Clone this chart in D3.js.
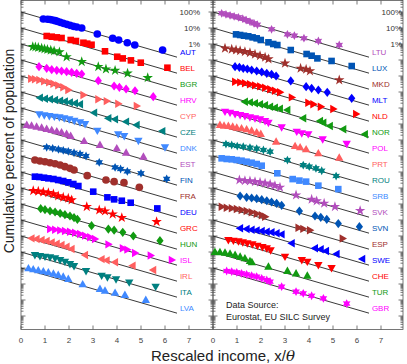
<!DOCTYPE html>
<html>
<head>
<meta charset="utf-8">
<script src="https://cdn.jsdelivr.net/npm/d3@7"></script>
<style>
  body { margin: 0; background: #fff; }
  svg { display: block; font-family: "Liberation Sans", Arial, sans-serif; }
</style>
</head>
<body>
<div id="chart"></div>
<script>
// countries top to bottom in each panel
var leftCountries = ["AUT", "BEL", "BGR", "HRV", "CYP", "CZE", "DNK", "EST", "FIN",
  "FRA", "DEU", "GRC", "HUN", "ISL", "IRL", "ITA", "LVA"];
var rightCountries = ["LTU", "LUX", "MKD", "MLT", "NLD", "NOR", "POL", "PRT", "ROU",
  "SRB", "SVK", "SVN", "ESP", "SWE", "CHE", "TUR", "GBR"];

// each point: [rescaled income x/theta, cumulative percent of population]
var AUT = [[0.93,36.5],[1.11,35],[1.21,34],[1.31,31.6],[1.42,28.6],[1.51,26],[1.63,22.6],[1.76,19.6],[1.9,17],[2.04,14.7],[2.18,12.7],[2.32,11.5],[2.53,10],[3.18,4.2],[3.82,2.3],[4.07,1.78],[4.43,1.2],[4.74,0.87],[5.9,0.42]];
var BEL = [[1.07,31.6],[1.28,28.7],[1.49,26],[1.69,23.7],[2.07,17.8],[2.29,15.4],[2.6,12],[2.76,10.5],[2.94,9],[3.5,3.5],[4.01,1.6],[4.24,1.26],[4.58,0.95],[4.99,0.68],[6.1,0.33]];
var BGR = [[0.49,68],[0.6,65],[0.72,60],[0.86,54],[0.98,49],[1.1,45],[1.24,41],[1.38,36.5],[1.6,31.6],[1.9,15.5],[2.53,7.8],[3.22,3.8],[3.54,2.7],[3.92,2.2],[4.44,1.47],[5.28,0.78]];
var HRV = [[0.75,38],[1.07,30.3],[1.28,24.8],[1.49,22.6],[1.69,20.5],[1.9,18.6],[2.11,17],[2.32,14.7],[2.53,13.3],[3.22,5.1],[3.88,2.37],[4.1,1.95],[4.38,1.54],[4.75,1.2],[5.51,0.51]];
var CYP = [[0.42,68],[0.58,62],[0.76,56],[0.96,46.6],[1.17,40],[1.35,33],[1.55,26],[1.76,19.6],[1.97,13.3],[2.6,6.5],[3.22,3.5],[3.57,2.7],[4.05,1.85],[4.82,1.33]];
var CZE = [[0.79,44],[1.0,38],[1.21,35],[1.42,31.6],[1.63,28.7],[1.83,26],[2.04,22.6],[2.25,19.6],[2.46,17],[3.05,5.1],[3.64,2.3],[3.92,1.95],[4.38,1.4],[4.82,0.87],[5.89,0.36]];
var DNK = [[0.76,40],[0.97,35],[1.18,31.6],[1.39,28.6],[1.6,26],[1.8,22.6],[2.01,19.6],[2.22,16],[2.46,12.7],[2.67,10],[3.18,3.8],[4.05,2.3],[4.3,1.78],[4.89,0.9],[6.0,0.35]];
var EST = [[0.24,86.6],[0.44,78.5],[0.65,68],[0.86,58.8],[1.07,48.7],[1.28,42],[1.49,35],[1.69,30.3],[1.9,23.7],[2.07,17.8],[2.63,8.6],[3.29,4.9],[3.99,3.0],[4.38,1.6],[5.1,0.9]];
var FIN = [[1.07,35],[1.32,30.3],[1.56,26],[1.76,22.6],[1.97,19.6],[2.21,16],[2.46,13.3],[2.71,10],[3.26,4],[3.92,1.95],[4.15,1.54],[4.43,1.1],[5.0,0.83],[6.07,0.37]];
var FRA = [[0.58,56],[0.79,48.7],[1.0,44],[1.21,38],[1.42,33],[1.63,27.4],[1.83,21.5],[2.04,17],[2.21,13.3],[2.76,5.9],[3.54,3.16],[3.88,2.5],[4.29,2.15],[4.93,1.1]];
var DEU = [[0.58,51],[0.76,48.7],[0.96,44],[1.14,40],[1.35,36.5],[1.55,31.6],[1.76,27.4],[1.97,22.6],[2.18,17.8],[2.39,13.3],[3.01,5.9],[3.6,2.6],[3.88,1.95],[4.2,1.6],[4.57,1.2],[5.68,0.53]];
var GRC = [[0.51,68],[0.72,62],[0.93,56],[1.14,51],[1.35,42],[1.55,31.6],[1.76,26],[1.97,22.6],[2.11,17.8],[2.74,6.8],[3.26,4.2],[3.5,3.6],[3.82,2.3],[4.2,1.4],[5.65,0.78]];
var HUN = [[0.82,51],[1.0,44],[1.21,36.5],[1.42,31.6],[1.63,26],[1.83,21.5],[2.04,17.8],[2.21,14],[2.35,11],[2.94,4.4],[3.64,2.7],[3.88,2.3],[4.24,1.7],[4.68,1.0],[5.79,0.51]];
var ISL = [[1.21,27.4],[1.42,24.8],[1.63,22.6],[1.83,20.5],[2.04,18.6],[2.25,16],[2.46,13.3],[2.67,10.5],[2.88,8.3],[3.08,6.5],[3.64,3.0],[4.24,1.7],[4.43,1.4],[4.75,0.87],[5.4,0.6],[6.28,0.32]];
var IRL = [[0.44,71.5],[0.65,65],[0.86,56],[1.07,48.7],[1.28,40],[1.49,33],[1.69,27.4],[1.9,21.5],[2.11,15.4],[2.67,6.5],[3.36,3.6],[3.57,3.0],[3.92,2.3],[4.65,1.4],[5.51,0.75]];
var ITA = [[0.58,65],[0.79,56],[1.0,51],[1.21,46.6],[1.42,40],[1.63,31.6],[1.83,24.8],[2.04,17.8],[2.21,13.3],[2.71,6.5],[3.36,3.3],[3.6,2.6],[3.96,1.95],[4.51,1.26],[5.61,0.68]];
var LVA = [[0.31,95],[0.51,83],[0.72,71.5],[0.93,62],[1.14,53.8],[1.35,44],[1.55,36.5],[1.76,28.6],[1.97,20.5],[2.57,9.6],[3.29,4.9],[3.5,3.8],[3.92,2.8],[4.33,2.05],[5.2,1.0]];
var LTU = [[0.36,83],[0.54,71.5],[0.71,62],[0.88,53.8],[1.06,46.6],[1.24,38],[1.38,31],[1.54,24.8],[1.71,19.6],[1.85,16],[2.44,8.3],[3.1,4.0],[3.39,3.3],[3.79,2.3],[4.39,1.54],[5.26,0.87]];
var LUX = [[0.96,40],[1.13,36.5],[1.29,33],[1.47,30.3],[1.65,26],[1.82,22.6],[1.99,17.8],[2.31,12.7],[2.51,10],[2.68,8.6],[3.24,4.2],[3.9,2.37],[4.11,1.85],[4.35,1.26],[4.94,0.87],[5.78,0.42]];
var MKD = [[0.5,53.8],[0.78,46.6],[0.96,42],[1.13,38],[1.33,33],[1.54,28.6],[1.75,22.6],[1.96,18.6],[2.17,14.7],[2.31,11.5],[3.0,6.2],[3.65,3.0],[3.88,2.6],[4.04,2.05],[5.26,0.56]];
var MLT = [[0.92,38],[1.1,35],[1.26,30.3],[1.43,27.4],[1.61,23.7],[1.82,20.5],[2.03,17.8],[2.24,14.7],[2.44,12.7],[2.63,10],[3.24,4.9],[3.88,2.15],[4.11,1.7],[4.39,1.33],[4.76,0.95],[5.78,0.4]];
var NLD = [[0.92,44],[1.13,40],[1.33,35],[1.54,30.3],[1.75,26],[1.96,22.6],[2.17,18.6],[2.38,14.7],[2.58,12],[2.79,9.6],[3.28,4.6],[3.97,2.15],[4.18,1.7],[4.49,1.2],[5.01,0.87],[5.96,0.42]];
var NOR = [[1.33,24.8],[1.54,22.6],[1.75,19.6],[1.96,17],[2.17,14.7],[2.38,12],[2.58,10.5],[2.79,9],[3.1,7.5],[3.76,2.3],[4.46,1.54],[4.6,1.2],[4.87,0.75],[5.43,0.47],[6.33,0.23]];
var POL = [[0.5,58.8],[0.71,51],[0.92,42],[1.13,36.5],[1.33,31.6],[1.54,26],[1.75,22.6],[1.96,19.6],[2.17,15.4],[2.31,12],[2.86,6.2],[3.49,3.3],[3.7,2.6],[3.97,2.3],[4.57,1.1],[5.57,0.58]];
var PRT = [[0.29,86.6],[0.46,78.5],[0.64,75],[0.82,68],[0.99,58.8],[1.19,53.8],[1.4,46.6],[1.61,38],[1.82,30.3],[1.99,23.7],[2.63,7.8],[3.42,4.2],[3.63,3.5],[3.88,2.6],[4.39,1.47],[5.26,0.78]];
var ROU = [[0.54,56],[0.78,48.7],[1.01,42],[1.26,38],[1.54,33],[1.82,28.6],[2.1,23.7],[2.38,18.6],[3.1,5.6],[3.76,2.7],[4.01,2.15],[4.29,1.7],[4.53,1.2],[5.13,0.56]];
var SRB = [[0.36,71.5],[0.57,65],[0.78,62],[0.99,56],[1.19,51],[1.4,44],[1.61,38],[1.82,31.6],[2.03,24.8],[2.68,8.3],[3.32,3.6],[3.6,2.9],[3.88,2.5],[4.39,1.4],[5.22,0.85]];
var SVK = [[1.1,31.6],[1.33,28.6],[1.54,27.4],[1.75,24.8],[1.96,22.6],[2.17,19.6],[2.38,17],[2.58,14],[2.79,11],[3.46,3.6],[4.11,1.95],[4.32,1.54],[4.63,1.1],[5.08,0.68],[6.13,0.38]];
var SVN = [[1.13,31.6],[1.4,26],[1.61,23.7],[1.82,21.5],[2.03,18.6],[2.24,16],[2.44,13.3],[2.65,11],[2.86,8.3],[3.6,3.6],[4.25,1.78],[4.49,1.47],[4.74,1.1],[5.22,0.6],[6.1,0.38]];
var ESP = [[0.36,68],[0.57,58.8],[0.78,53.8],[0.99,48.7],[1.19,42],[1.4,36.5],[1.61,30.3],[1.82,24.8],[2.03,19.6],[2.17,16],[3.56,3.3],[3.76,2.8],[4.04,2.3],[5.4,0.7]];
var SWE = [[1.13,30.3],[1.4,27.4],[1.61,24.8],[1.82,22.6],[2.03,20.5],[2.24,18.6],[2.44,17],[2.65,14.7],[2.86,12.7],[3.28,3.5],[4.25,1.7],[4.49,1.47],[4.71,1.15],[5.15,0.75],[6.22,0.37]];
var CHE = [[0.64,56],[0.85,51],[1.06,46.6],[1.24,40],[1.43,35],[1.64,30.3],[1.85,24.8],[2.06,20.5],[2.24,17],[2.4,12.7],[3.0,5.1],[3.7,3.16],[3.93,2.5],[4.39,1.54],[4.94,1.0]];
var TUR = [[0.08,100],[0.29,97],[0.5,90],[0.71,78],[0.92,65],[1.13,51],[1.33,40],[1.54,27],[1.62,23],[2.31,12],[3.1,6.5],[3.46,4.6],[3.93,3.3]];
var GBR = [[0.57,65],[0.78,58.8],[0.99,53.8],[1.19,46.6],[1.4,40],[1.61,33],[1.82,28.6],[2.03,22.6],[2.24,17.8],[2.38,14],[2.86,6.8],[3.46,3.3],[3.76,2.6],[4.11,1.85],[4.6,1.26],[5.57,0.6]];

var xTicks = [0, 1, 2, 3, 4, 5, 6, 7];
var percentLabels = [[100, "100%"], [10, "10%"], [1, "1%"]];
var fitEnd = 6.5;   // exponential fit drawn from x = 0 to here
var sourceLines = ["Data Source:", "Eurostat, EU SILC Survey"];

var series = {AUT, BEL, BGR, HRV, CYP, CZE, DNK, EST, FIN, FRA, DEU, GRC, HUN, ISL, IRL, ITA, LVA,
  LTU, LUX, MKD, MLT, NLD, NOR, POL, PRT, ROU, SRB, SVK, SVN, ESP, SWE, CHE, TUR, GBR};

// styles
var palette = ["#0000ff", "#ff0000", "#119a11", "#ff00ff", "#ff5f5f",
  "#008080", "#4089ff", "#b24dbd", "#0054b4", "#a0302c"];
var leftMarkers = ["circle", "square", "star", "diamond", "right", "left", "down", "up", "hex",
  "circle", "square", "star", "diamond", "right", "left", "down", "up"];
var rightMarkers = ["hex", "square", "star", "diamond", "right", "left", "down", "up", "hex",
  "square", "star", "diamond", "right", "left", "down", "up", "hex"];

var width = 407, height = 364;
var pxPerUnit = 24;
var plotTop = 0.5, plotBottom = 329.5;

var svg = d3.select("#chart").append("svg")
  .attr("width", width)
  .attr("height", height);

// log scale: each country shifted down one decade
var y = d3.scaleLog()
  .domain([Math.pow(10, 0.75), Math.pow(10, -19.875)])
  .range([0, 330]);

function markerPath(type) {
  if (type === "circle") return d3.symbol(d3.symbolCircle, 46)();
  if (type === "square") return "M-3.3,-3.3H3.3V3.3H-3.3Z";
  if (type === "star") return d3.symbol(d3.symbolStar, 34)();
  if (type === "diamond") return "M0,-4.6L3.6,0L0,4.6L-3.6,0Z";
  if (type === "right") return "M4.4,0L-3,-4.2L-3,4.2Z";
  if (type === "left") return "M-4.4,0L3,-4.2L3,4.2Z";
  if (type === "down") return "M0,4.4L-4.2,-3L4.2,-3Z";
  if (type === "up") return "M0,-4.4L-4.2,3L4.2,3Z";
  // hexagram
  var pts = [];
  for (var k = 0; k < 12; k++) {
    var a = -Math.PI / 2 + k * Math.PI / 6;
    var rr = k % 2 === 0 ? 4.4 : 2.4;
    pts.push([rr * Math.cos(a), rr * Math.sin(a)]);
  }
  return "M" + pts.map(function (p) { return p[0].toFixed(2) + "," + p[1].toFixed(2); }).join("L") + "Z";
}

function drawPanel(countries, markers, x0, x1, colorOffset, labelRight) {
  var x = d3.scaleLinear()
    .domain([0, (x1 - x0) / pxPerUnit])
    .range([x0, x1]);

  var g = svg.append("g");

  // frame
  g.append("rect")
    .attr("x", x0).attr("y", plotTop)
    .attr("width", x1 - x0).attr("height", plotBottom - plotTop)
    .attr("fill", "none")
    .attr("stroke", "#555")
    .attr("stroke-width", 0.8);

  // x ticks on top and bottom
  var ticks = g.append("g").attr("stroke", "#555").attr("stroke-width", 0.8);
  xTicks.forEach(function (t) {
    ticks.append("line").attr("x1", x(t)).attr("x2", x(t)).attr("y1", plotTop).attr("y2", plotTop + 4);
    ticks.append("line").attr("x1", x(t)).attr("x2", x(t)).attr("y1", plotBottom).attr("y2", plotBottom - 4);
  });
  g.selectAll(".xlab")
    .data(xTicks)
    .enter().append("text")
    .attr("x", function (d) { return x(d); })
    .attr("y", 343)
    .attr("text-anchor", "middle")
    .attr("font-size", "8px")
    .attr("fill", "#444")
    .text(function (d) { return d; });

  // log ticks on left and right
  var yt = [];
  for (var k = -20; k <= 0; k++) {
    for (var m = 1; m <= 9; m++) {
      var py = y(m * Math.pow(10, k));
      if (py > plotTop + 0.3 && py < plotBottom - 0.3) yt.push({py: py, major: m === 1});
    }
  }
  yt.forEach(function (t) {
    var len = t.major ? 4.5 : 2.5;
    ticks.append("line").attr("x1", x0).attr("x2", x0 + len).attr("y1", t.py).attr("y2", t.py);
    ticks.append("line").attr("x1", x1).attr("x2", x1 - len).attr("y1", t.py).attr("y2", t.py);
  });

  // percent labels at the top right
  g.selectAll(".pct")
    .data(percentLabels)
    .enter().append("text")
    .attr("x", labelRight)
    .attr("y", function (d) { return y(d[0] / 100) + 2.8; })
    .attr("text-anchor", "end")
    .attr("font-size", "8px")
    .attr("fill", "#333")
    .text(function (d) { return d[1]; });

  var line = d3.line()
    .x(function (d) { return x(d[0]); })
    .y(function (d) { return y(d[1]); });

  countries.forEach(function (c, i) {
    var shift = Math.pow(10, -i);
    var color = palette[(i + colorOffset) % palette.length];

    // exponential fit line
    g.append("path")
      .datum([[0, shift], [fitEnd, Math.exp(-fitEnd) * shift]])
      .attr("d", line)
      .attr("fill", "none")
      .attr("stroke", "#222")
      .attr("stroke-width", 0.9);

    g.append("g")
      .selectAll("path")
      .data(series[c])
      .enter().append("path")
      .attr("d", markerPath(markers[i]))
      .attr("transform", function (d) {
        return "translate(" + x(d[0]) + "," + y(d[1] / 100 * shift) + ")";
      })
      .attr("fill", color);

    g.append("text")
      .attr("x", x(6.62))
      .attr("y", y(Math.exp(-fitEnd) * shift) - 2.6)
      .attr("font-size", "8px")
      .attr("fill", color)
      .text(c);
  });
  return x;
}

drawPanel(leftCountries, leftMarkers, 21, 213, 0, 200);
drawPanel(rightCountries, rightMarkers, 213, 403, 7, 402);

// data source note
svg.append("g").selectAll("text")
  .data(sourceLines)
  .enter().append("text")
  .attr("x", 226)
  .attr("y", function (d, i) { return 308 + i * 12; })
  .attr("font-size", "9px")
  .attr("fill", "#222")
  .text(function (d) { return d; });

// axis titles
var xt = svg.append("text")
  .attr("x", 223)
  .attr("y", 361)
  .attr("text-anchor", "middle")
  .attr("font-size", "15px")
  .attr("fill", "#222");
xt.append("tspan").text("Rescaled income, x/");
xt.append("tspan").attr("font-style", "italic").attr("font-family", "DejaVu Serif, serif").text("θ");

svg.append("text")
  .attr("transform", "translate(14,151) rotate(-90)")
  .attr("text-anchor", "middle")
  .attr("font-size", "14px")
  .attr("fill", "#222")
  .text("Cumulative percent of population");
</script>
</body>
</html>
